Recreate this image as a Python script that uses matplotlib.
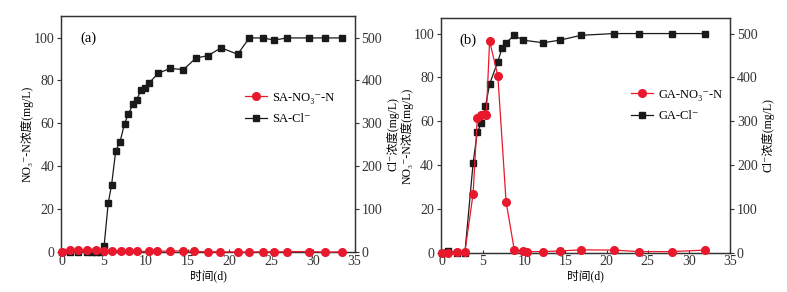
import matplotlib
matplotlib.use("Agg")
import matplotlib.pyplot as plt

plt.rcParams['font.family'] = ['Liberation Serif', 'Noto Sans CJK SC', 'DejaVu Sans']

RED = '#e8192c'
BLK = '#1a1a1a'

# Panel (a) SA
sa_no3_t = [0, 0.9, 1.9, 2.9, 4.0, 5.0, 6.0, 7.0, 8.0, 9.0, 10.4, 11.4, 12.9, 14.5, 15.8, 17.4, 18.9, 21.0, 22.4, 24.0, 25.4, 26.9, 29.5, 31.5, 33.5]
sa_no3 = [0, 0.8, 0.8, 0.8, 0.8, 0.5, 0.5, 0.5, 0.3, 0.3, 0.3, 0.3, 0.5, 0.5, 0.3, 0.1, 0.1, 0, 0, 0.1, 0, 0.2, 0.2, 0, 0]
sa_cl_t = [0, 0.9, 1.9, 3.0, 3.5, 4.0, 4.5, 5.0, 5.5, 5.9, 6.4, 6.9, 7.45, 7.9, 8.45, 8.9, 9.45, 9.9, 10.4, 11.5, 12.95, 14.5, 16.0, 17.5, 19.0, 21.0, 22.4, 24.0, 25.4, 26.9, 29.5, 31.5, 33.5]
sa_cl = [0, 0, 0, 0, 0, 0, 0, 13, 114, 156, 236, 256, 299, 321, 344, 355, 378, 382, 394, 417, 428, 425, 452, 458, 476, 461, 499, 499, 494, 499, 499, 499, 499]

# Panel (b) GA
ga_no3_t = [0, 0.8, 1.8, 2.8, 3.8, 4.3, 4.8, 5.2, 5.4, 5.8, 6.8, 7.8, 8.8, 9.85, 10.3, 12.3, 14.4, 16.9, 20.9, 23.9, 27.9, 32.0]
ga_no3 = [0, 0, 0.3, 0.4, 27, 61.3, 62.8, 63.3, 63.0, 96.6, 80.6, 23.3, 1.2, 0.8, 0.5, 0.5, 0.8, 1.3, 1.2, 0.5, 0.5, 1.2]
ga_cl_t = [0, 0.8, 1.8, 2.8, 3.8, 4.3, 4.8, 5.3, 5.8, 6.8, 7.3, 7.8, 8.8, 9.85, 12.3, 14.35, 16.9, 20.9, 23.9, 27.9, 32.0]
ga_cl = [0, 5, 0, 0, 205, 275, 295, 334, 385, 436, 466, 479, 496, 485, 479, 485, 496, 500, 500, 500, 500]

xticks = [0, 5, 10, 15, 20, 25, 30, 35]
yticks_l = [0, 20, 40, 60, 80, 100]
yticks_r = [0, 100, 200, 300, 400, 500]

fig = plt.figure(figsize=(7.87, 2.92), dpi=100)

FS = 10
LFS = 8.5

def panel(rect, t_no3, no3, t_cl, cl, ylim, label, prefix, leg_xy):
    ax = fig.add_axes(rect)
    ax2 = ax.twinx()
    l1, = ax.plot(t_no3, no3, '-o', color=RED, lw=0.9, ms=5.5, clip_on=False, zorder=3,
                  label=prefix + '-NO\u2083\u207b-N')
    l2, = ax2.plot(t_cl, cl, '-s', color=BLK, lw=0.9, ms=4.8, clip_on=False, zorder=3,
                   label=prefix + '-Cl\u207b')
    ax.set_zorder(ax2.get_zorder() + 1)
    ax.patch.set_visible(False)
    ax.set_xlim(-0.1, 35)
    ax.set_ylim(0, ylim)
    ax2.set_ylim(0, ylim * 5)
    ax.set_xticks(xticks)
    ax.set_yticks(yticks_l)
    ax2.set_yticks(yticks_r)
    for a in (ax, ax2):
        a.tick_params(labelsize=FS, length=3, width=0.8, colors='#333333', pad=2)
        for s in a.spines.values():
            s.set_color('#333333')
            s.set_linewidth(0.9)
    ax.tick_params(axis='x', direction='in', length=2)
    ax.set_xlabel('时间(d)', fontsize=LFS, labelpad=1)
    ax.set_ylabel('NO\u2083\u207b-N浓度(mg/L)', fontsize=LFS, labelpad=0)
    ax2.set_ylabel('Cl\u207b浓度(mg/L)', fontsize=LFS, labelpad=3)
    ax.text(0.065, 0.905, label, transform=ax.transAxes, fontsize=FS + 0.5, va='center')
    ax2.legend([l1, l2], [l1.get_label(), l2.get_label()], loc='upper left',
               bbox_to_anchor=leg_xy, frameon=False, fontsize=9, borderpad=0,
               borderaxespad=0, handlelength=1.8, handletextpad=0.4, labelspacing=0.75)
    return ax, ax2

panel([0.0781, 0.137, 0.3724, 0.808], sa_no3_t, sa_no3, sa_cl_t, sa_cl, 110, '(a)', 'SA', (0.626, 0.68))
panel([0.5604, 0.1346, 0.3672, 0.803], ga_no3_t, ga_no3, ga_cl_t, ga_cl, 107, '(b)', 'GA', (0.656, 0.70))

fig.savefig('out.png', dpi=100)
